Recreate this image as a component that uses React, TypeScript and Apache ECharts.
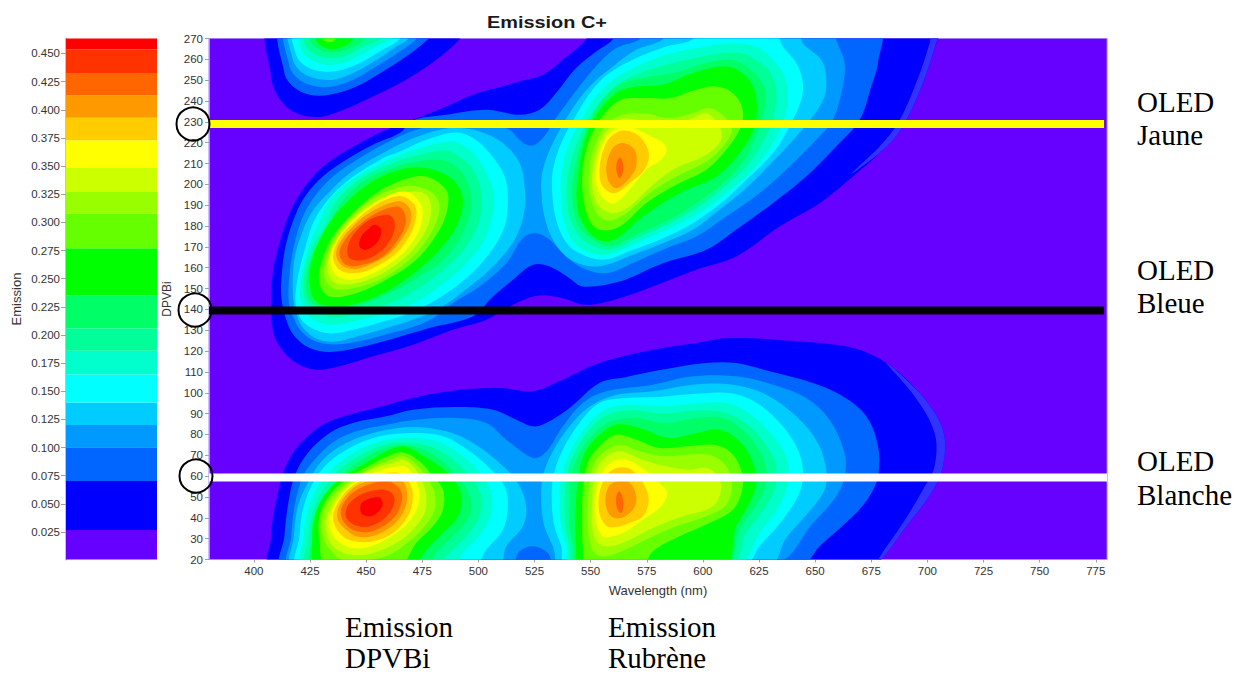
import React, { useEffect, useRef } from "react";
import * as echarts from "echarts";

// ---- axis ticks ----
const wavelengthTicks = [400, 425, 450, 475, 500, 525, 550, 575, 600, 625, 650, 675, 700, 725, 750, 775];
const emissionTicks = [0.025, 0.05, 0.075, 0.1, 0.125, 0.15, 0.175, 0.2, 0.225, 0.25, 0.275, 0.3, 0.325, 0.35, 0.375, 0.4, 0.425, 0.45];

// ---- colour scale: lower / upper limits of each colour band ----
const bandColors = ["#6600ff", "#0000ff", "#0066ff", "#0099ff", "#00ccff", "#00ffff", "#00ffcc", "#00ff99", "#00ff66", "#00ff00", "#66ff00", "#99ff00", "#ccff00", "#ffff00", "#ffcc00", "#ff9900", "#ff6600", "#ff3300", "#ff0000"];
const bandEdges = [0.0006, 0.0268, 0.0703, 0.1004, 0.12, 0.14, 0.165, 0.186, 0.206, 0.235, 0.277, 0.308, 0.327, 0.349, 0.373, 0.393, 0.413, 0.432, 0.4536, 0.4633];

// ---- iso-emission contours: flat lists of wavelength, DPVBi ----
const level01 = [
  [407.7,276,407.7,251.8,410.7,242.2,417.4,235,427.8,232.3,438.1,235,453,242.2,467.8,250.2,481.2,259.8,491.6,269.7,494.6,276],
  [549.5,276,548,269.7,537.6,259.8,528.7,252.6,518.3,249.4,508,246.2,497.6,243,485.7,237.4,470.8,231,459,226.2,448.5,220.6,438.2,214.2,429.2,207,421.8,197.4,415.9,186.2,411.4,171.8,408.4,157.4,407.7,143,408.4,130.3,411.4,122.3,418.8,114.3,427.8,111.1,438.2,112.7,453,117.5,470.8,123.1,488.6,130.3,503.5,135.1,518.3,143.8,527.2,146.7,537.6,145.4,548,142.2,562.9,145.4,577.7,151,597,159,614.8,165.4,634.1,179.8,652,191,666.8,203.8,680.2,216.6,689,227.8,698,248.6,703.9,267.8,706.2,276],
  [407.7,16.7,407.7,31.1,408.4,39.1,410.7,51.9,413.6,63.1,419.6,74.3,430.7,84.7,442.6,89.5,456,93.2,470.8,97.5,490.1,101.2,509.4,102.3,524.3,100.7,536.1,105.5,553.9,114.3,577.7,120.7,597,123.9,611.9,126.3,641.6,124.7,666.8,121.5,681.7,114.3,696.5,99.9,706.9,82.3,706.9,64.7,701.7,51.9,690.6,35.9,679.4,19.9,677.2,15.9],
];
const edgeBand = [
  [706.2,276,703.9,267.8,698,248.6,689,227.8,680.2,216.6,666,205,678.7,218.2,686.9,229.4,695,248.6,701,267.8,702.4,275.8],
  [681.7,114.3,696.5,99.9,706.9,82.3,706.9,64.7,701.7,51.9,690.6,35.9,679.4,19.9,678,19.9,689.1,37.5,698,53.5,703.2,64.7,703.2,80.7,694.3,98.3],
];
const level02 = [
  [412.9,276,413.6,253.4,417.4,247,424.8,243,433.7,243,445.6,247,457.5,254.2,467.8,261.4,477.5,269.7,481.2,276],
  [561.4,276,559.9,269.7,552.5,263.8,543.5,255.8,534.6,243.8,527.2,235.8,518.3,233.4,503.5,235.8,485.7,233.4,470.8,230.7,464.9,224.6,453,219,441.1,211.8,430.7,203.8,423.3,195,418.8,186.2,414.4,171.8,412.6,159,412.2,146.2,414.4,135.1,418.1,127.1,424.8,121.5,433.7,119.6,445.6,121.5,460.4,125.5,478.2,131.1,497.6,136.7,506.5,146.2,515.4,154.2,524.3,161.4,531.7,160.6,540.6,155,546.5,151,562.9,153.4,582.2,162.2,601.5,168.6,614.8,178.2,631.2,191,646,203.8,659.4,218.2,669.8,231,675,247,678,258.2,678,276],
  [412.9,15.9,413.6,31.1,415.1,45.5,418.1,59.9,424,71.1,433.7,80.7,444.1,85.5,458.9,88.7,470.8,91.9,490.1,93.2,506.5,91.9,516.9,87.1,524.3,83.9,530.2,85.5,540.6,92.7,553.9,104.7,565.8,107.6,583.6,111.4,601.5,114.3,614.8,114.3,629.7,110.3,649,104.7,662.3,98.3,672.8,88.7,678,74.3,678,59.9,674.2,50.3,666.8,40.7,652,26.3,644.5,18.3],
];
const level03 = [
  [415.1,276,415.9,256.6,420.3,250.2,427.8,247,435.2,247,444.1,250.2,454.5,256.6,464.9,263.8,472.3,269.7,475.3,276],
  [573.2,275.8,571.8,269.7,561.4,265.4,551,255,542.8,243.8,534.6,231.8,530.9,225.4,527.2,220.6,523.5,218.5,519,220.6,513.9,226.2,506.5,228.6,490.1,229.4,472.3,226.2,458.9,219.8,447.1,212.6,435.2,203.8,427,194.2,421.8,184.6,418.1,171.8,415.9,157.4,415.6,143,418.1,135.1,421.1,129.5,427,124.8,435.2,123.2,445.6,124.5,460.4,128.5,473.8,132.7,481.2,136.7,488.6,143,500.5,151,512.4,162.2,519.8,174.2,525.8,176.6,531.7,173.4,539.1,165.4,546.5,159.8,556.9,157.4,570.3,163,583.6,169.4,597,175,610.4,184.6,625.2,195.8,637.1,207,650.5,221.4,657.9,231,662.3,247,663.1,258.2,659.4,269.7,658.6,275.8],
  [415.9,15.9,416.6,31.1,418.1,45.5,421.8,59.9,427,67.9,435.9,76.7,445.6,81.5,458.9,84.7,472.3,87.1,490.1,87.9,503.5,85.5,512.4,77.5,521.3,70.3,525.8,68.7,531,72.7,537.6,83.9,546.5,95.1,556.9,100.7,577.7,103.9,595.5,107.9,614.8,107.9,631.2,103.9,646,97.5,656.4,87.1,663.1,71.1,663.1,59.9,659.4,50.3,649,37.5,632.6,18.3,534.6,15.9,530.9,23.1,524.2,26.3,518.3,23.9,513.8,15.9],
];
const level04 = [
  [416.6,276,417.4,259.8,421.8,253.4,429.2,250.5,436.7,250.5,445.6,254.2,456,260.6,463.4,266.2,468.6,269.7,471.6,276],
  [490.1,227,482.7,226.2,469.3,221.4,456,214.2,442.6,205.4,433,195.8,425.5,186.2,420.3,173.4,417.8,162.2,417.4,147.8,418.8,138.2,422.6,130.2,429.2,125.4,436.7,124.6,445.6,127,458.9,131,470.8,135,482.7,140.6,496.1,151,508,162.2,516.9,175,520.6,187.8,520.6,199,518.3,210.2,510.9,219.8,500.5,225.4],
  [582.9,275.8,582.2,269.7,570.3,264.6,559.9,256.6,549.5,247,540.6,234.2,533.2,219.8,528.7,207,528,197.4,529.4,184.6,533.2,173.4,539.1,165.4,546.5,161.4,555.4,160.9,568.8,166.2,582.2,171.8,595.5,178.2,607.4,187.8,619.3,198.2,631.2,211,641.6,223,649,232.6,654.2,242.2,654.9,251.8,652.7,259.8,644.5,267.8,641.6,275.8],
  [417.4,15.9,417.8,31.1,419.6,45.5,424,56.7,430.7,67.9,441.1,75.9,456,81.5,470.8,83.6,485.7,81.5,497.6,75.9,509.4,66.3,517.6,56.7,521.3,45.5,519.8,35.9,512.4,26.3,508.7,15.9],
  [536.9,15.9,533.2,26.3,529.4,35.9,528,47.1,528.7,59.9,533.2,71.9,540.6,83.9,548.7,92.7,559.9,98.6,577.7,100.7,595.5,103.9,613.3,103.9,628.2,99.1,641.6,88.7,651.2,75.9,654.9,63.1,654.2,53.5,647.5,43.1,637.1,30.3,628.9,15.9],
];
const level05 = [
  [418.1,276,418.8,262.2,423.3,256.6,430.7,254.2,438.1,254.7,447.1,258.2,456,263.8,464.9,269.7,467.9,276],
  [490.1,224.9,476.8,221.4,463.4,215,457.5,212.6,439.6,199.8,427.8,184.6,422.6,168.6,419.1,152.6,418.8,141.4,422.6,133.4,432.9,128.6,444.1,130.2,457.5,134.2,469.3,138.2,481.2,144.6,494.6,155,505,167,511.7,179.8,513.1,192.6,511.7,203.8,505,215,497.6,222.2],
  [594.8,275.8,595.5,269.7,583.6,266.2,570.3,260.6,558.4,253.4,550.2,244.6,542.8,231.8,536.9,219.8,533.2,207,532.9,195.8,534.6,183,538.3,173.4,543.5,167.8,555.4,163.8,568.8,168.6,582.2,174.2,595.5,181.4,608.9,191.8,619.3,202.2,631.2,215,638.6,227.8,643.8,240.6,644.5,248.6,641.6,258.2,635.6,266.2,630.4,275.8],
  [419.6,15.9,420.3,31.1,421.8,43.9,426.3,56.7,433,66.3,442.6,73.5,456,79.1,470.8,80.7,484.2,79.1,496.1,71.9,505.7,63.1,511.7,55.1,513.1,45.5,510.9,34.3,503.5,24.7,497.6,15.9],
  [539.1,15.9,536.9,26.3,533.9,35.9,532.7,47.1,533.4,59.9,537.6,72.7,545,85.5,553.9,95.1,565.8,97.5,580.7,98,598.5,99.6,613.3,99.6,625.2,94.3,635.6,83.9,642.3,72.7,644.5,63.1,643.3,52.7,635.6,39.1,625.2,26.3,617.8,15.9],
];
const level06 = [
  [420.3,276,421,264.6,425.5,259.8,432.2,257.4,439.6,258.2,448.5,262.7,456,267,461.2,269.7,464.1,276],
  [488.6,220.6,475.3,217.9,459.7,211.8,444.8,203,434.4,193.4,429.2,182.2,424,168.6,420.6,152.6,421.1,143,425.5,135.8,430.7,133.4,436.7,132.6,447.1,135,458.9,138.2,470.8,143,482.7,151,494.6,162.2,502.7,173.4,506.5,186.2,506.5,197.4,502,208.6,496,216.6],
  [610.4,267.5,597,265.4,583.6,262.2,570.3,256.6,559.9,250.2,551.7,241.4,545.8,231,539.8,218.2,536.9,203.8,536.9,192.6,538.3,181.4,542.8,171.8,549.5,167.3,556.9,166.2,570.3,171.8,583.6,178.2,597,185.4,610.4,195.8,622.3,207,631.2,219.8,636.4,232.6,637.9,243.8,635.6,253.4,628.2,263,620.8,267],
  [421.8,15.9,422.1,31.1,424,43.9,428.5,55.1,435.2,63.9,444.1,71.1,456,76.7,467.9,78.3,481.2,76.7,493.1,69.5,501.3,60.7,505.7,51.9,505.7,42.3,501.3,32.7,493.1,23.1,488.6,15.9],
  [541.3,15.9,539.1,26.3,536.9,35.9,536.1,47.1,536.9,59.9,540.6,71.1,548,83.9,556.9,92.2,567.3,94.3,582.2,93.5,598.5,95.1,611.9,94.8,622.3,88.7,631.2,79.1,637.1,69.5,637.9,57.9,634.1,45.5,625.2,32.7,614.8,15.9],
];
const level07 = [
  [421.8,276,423.3,266.2,427.8,262.2,433.7,260.6,441.1,261.7,448.5,266.2,456,269.7,459,276],
  [485.7,216.3,473.8,214.2,461.9,210.2,447.1,202.5,436.7,191.8,431.5,179.8,425.5,168.6,421.8,152.6,423,144.6,427,140.1,433,136.6,439.6,136.6,448.5,139,460.4,143,472.3,149.4,484.2,159,494.6,170.2,500.5,183,501.3,195.8,497.6,207,492.4,212.6],
  [608.9,263,597,260.6,583.6,257.4,570.3,252.6,560.6,247,553.2,238.2,548,229.4,542.8,216.6,539.8,203.8,539.5,192.6,541.3,182.2,545.8,174.2,551.7,170.2,558.4,168.6,570.3,174.2,583.6,180.6,597,188.6,608.9,198.2,619.3,208.6,627.4,221.4,631.9,234.2,632.6,245.4,629.7,254.2,622.3,260.6,616.3,263],
  [424,15.9,424.3,31.1,426.3,43.1,430.7,53.5,437.4,62.3,445.6,68.7,456,74.3,466.4,76.2,478.2,74.3,488.6,67.9,496.8,59.1,501.3,50.3,500.5,40.7,494.6,31.1,485.7,21.5,481.2,15.9],
  [542.8,15.9,540.6,26.3,538.8,35.9,538.3,47.1,539.1,59.9,542.8,71.1,549.5,82.3,557.7,89.5,568.8,91.6,582.2,90,598.5,91.6,610.4,90.3,620.8,83.9,628.9,73.5,632.6,64.7,631.9,53.5,626,42.3,619.3,32.7,611.9,15.9],
];
const level08 = [
  [424,276,425.5,267.8,430,264.3,435.2,263.3,441.9,264.9,449.3,269.7,452.3,276],
  [482.7,211.8,472.3,211,463.4,208.6,448.5,201.4,438.2,190.2,433,179.8,427,168.6,423,152.6,424.8,144.6,430,140.6,435.9,139.8,442.6,140.6,451.5,143.8,463.4,149.4,473.8,155.8,485.7,165.4,493.1,176.6,496.8,189.4,495.3,200.6,490.1,208.6],
  [608.9,259.8,598.5,257.4,586.6,253.4,573.2,251,562.9,247.8,554.7,239.8,549.5,230.2,545,216.6,542.1,203,541.8,192.6,543.5,183,548,175.8,555.4,171,559.9,170.5,571.8,176.6,585.1,183,597,191,608.9,200.6,617.8,211,623.7,223,627.4,235.8,627.4,246.2,622.3,254.2,615.6,259],
  [426,15.9,426.3,31.1,428.5,42.3,433,52.7,439.6,60.7,447.1,67.1,456,72.4,466.4,75,476,72.4,484.9,66.3,493.1,56.7,496.8,48.7,496.1,40.7,490.1,32.7,481.2,23.1,476.8,15.9],
  [543.8,15.9,542.1,26.3,540.6,35.9,540.6,47.1,541.3,59.9,545,71.1,551.7,80.7,559.1,86.3,570.3,87.9,583.6,85.5,597,87.9,608.9,87.9,618.5,81.5,625.2,71.9,628.2,63.1,627.4,53.5,622.3,43.9,616.3,34.3,609.6,15.9],
];
const level09 = [
  [427,276,428.5,267.8,433.7,264.9,439.6,266.2,444.1,269.7,445.6,276],
  [464.9,207,476.7,207.8,488.6,202.2,493.1,192.6,490.1,179.8,481.2,167,469.3,155.8,454.5,146.2,438.1,141.4,427.7,143.8,424.8,152.6,425.5,162.2,430.7,176.6,439.6,189.4,451.5,200.6],
  [610.4,256.6,595.5,253.4,582.2,247.8,570.3,247,561.4,243.8,552.5,233.4,547.3,221.4,544.3,203.8,543.8,191,545.8,183,550.2,175.8,556.2,172.6,562.9,175,573.2,184.6,589.6,195.8,605.9,203.8,616.3,215,623,227.8,623.7,242.2,619.3,251.8],
  [428,15.9,426,29.5,427,40.7,431.5,51.1,438.9,59.1,448.5,65.5,457.5,71.1,466.4,74.3,474.5,70.3,482.7,64.7,490.1,56.7,492.4,50.3,490.9,40.7,484.2,32.7,476.8,24.7,470.1,15.9],
  [545,15.9,543.5,26.3,543.2,35.9,543.5,48.7,544.7,59.9,547.3,71.1,553.2,79.1,561.4,84.7,571.8,83.1,585.1,78.3,597,80.7,607.4,82.3,616.3,76.7,622.3,66.3,623.7,56.7,620.8,47.1,614.8,35.9,609.2,15.9],
];
const level10 = [
  [430,276,430.7,269.7,435.2,268.6,439.6,276],
  [476.7,203.8,485.6,197.4,486.4,189.4,482.7,178.2,472.3,163.8,458.9,154.2,445.5,147.8,433.7,146.2,429.2,152.6,430,162.2,435.2,175,444.1,186.2,454.5,195.8,466.3,202.2],
  [605.9,247,613.3,243.8,617.5,236.6,617,227.8,610.4,216.6,601.5,207,588.1,199.8,574.7,191,562.9,179.8,553.9,178.2,548.7,184.6,546.2,202.2,548.7,219,554.7,231.8,562.9,240.3,573.2,241.4,585.1,241.4,597,245.4],
  [432.5,15.9,429.2,29.5,429.2,40.7,433.7,51.1,441.9,59.1,450.8,64.7,458.9,69.2,466.4,71.4,473.8,67.1,479.7,59.9,484.2,53.5,484.2,43.9,479.7,35.9,472.3,27.9,464.1,15.9],
  [548.7,15.9,546.5,26.3,546.2,39.1,546.5,51.9,548.7,66.3,553.9,74.3,561.4,79.9,570.3,77.5,580.7,73.5,592.6,74.3,604.4,75.1,611.9,71.9,617,63.1,617.5,53.5,613.3,43.9,602.9,37.5,589.6,31.1,577.7,23.9,572.5,15.9],
];
const level11 = [
  [472.3,199,479.7,195.8,482.7,189.4,479.7,178.2,470.8,165.4,457.4,155,444.1,150.2,435.2,150.2,431.4,155.8,432.9,167,438.1,178.2,447,188.6,457.4,195.8,466.3,199],
  [602.9,236.6,609.6,232.3,613,226.2,608.9,218.2,601.5,211,588.1,203.8,576.2,195.8,565.8,186.2,558.4,182.7,553.2,185.4,549.9,194.2,549.2,205.4,551.7,218.2,556.9,228.6,564.3,233.4,574.7,233.9,585.1,231.8,595.5,234.2],
  [434,24.7,430.7,31.1,430.7,40.7,435.2,50.3,443.3,58.3,452.3,63.9,460.4,67.6,466.4,69.5,472.3,65.5,477.5,58.3,480.5,51.9,480.5,43.9,476,35.9,469.3,28.7,460.4,22.3,450,19.6,439.6,19.6],
  [551.7,23.1,549.2,31.1,548.7,42.3,549.5,56.7,551.7,66.3,556.2,71.9,562.9,75.1,571.8,71.9,582.2,69.5,592.6,70.3,602.9,70.3,610.4,64.7,612.9,55.1,610.4,46.3,601.5,40.7,588.1,35.9,576.2,30.3,565.8,24.9,556.9,21.5],
];
const level12 = [
  [470.8,196.6,476.7,195,479,188.6,476.7,178.2,469.3,167,457.4,157.4,445.5,152.6,436.6,152.6,432.9,158.2,434.4,167.8,439.6,178.2,448.5,187.8,458.9,194.2],
  [601.5,234.2,607.4,227.8,608.1,221.4,601.5,214.2,588.1,207.8,577.7,199.8,567.3,189.4,559.9,186.2,553.9,189.4,550.7,199,551.7,211.8,555.4,223,562.9,231,571.8,230.7,586.6,227.8,595.5,231.8],
  [435.2,26.3,432.5,32.7,432.5,40.7,437,50.3,444.8,58.3,453.7,63.9,461.2,66.3,466.4,67.9,471.6,63.9,475.3,56.7,476.8,50.3,476,42.3,470.8,34.3,463.4,27.9,453,23.1,442.6,22.3],
  [553.2,27.9,550.7,35.9,550.7,48.7,551.7,59.9,555.4,67.9,562.9,71.9,573.2,67.9,583.6,64.7,594,63.1,601.5,63.9,606.7,59.9,608.1,53.5,604.4,45.5,591.1,40.7,577.7,35.1,565.8,28.7,558.4,26.3],
];
const level13 = [
  [467.8,196.6,473,192.6,475.2,186.2,473,176.6,466.3,167,456,159,445.5,154.5,437.4,155.8,433.7,163,435.9,171.8,442.6,181.4,451.5,189.4,460.4,195],
  [565.8,227.8,577,223,583.6,218.2,582.2,212.6,574.7,207,567.3,197.4,560.6,191,555.4,193.4,552.2,202.2,553.9,215,558.4,224.6],
  [437.4,28.7,434,34.3,434,41.5,438.9,51.1,446.3,58.3,455.2,62.3,461.9,64.4,467.1,64.7,470.8,60.7,473.5,53.5,473,45.5,468.6,37.5,461.2,31.1,452.3,26.3,443.3,25.5],
  [555.4,31.1,552.2,39.1,552.2,50.3,554.7,60.7,559.1,66.6,565.8,67.9,574,63.1,580.7,56.7,584,51.9,581.4,45.5,573.2,39.1,565.8,33.5,559.9,31.1],
];
const level14 = [
  [466.3,194.2,471.5,190.2,472.3,184.6,470,176.6,463.4,167,453,159.8,444.8,157.4,438.1,159,435.2,165.4,438.1,174.2,444.8,182.2,453,189.4,460.4,193.4],
  [565.1,225.9,571.8,223,575.9,215,574,207,567.3,200.6,560.6,195.8,555.4,199,553.9,207,556.2,218.2,559.9,223.8],
  [439.6,31.1,435.6,37.5,435.9,43.9,441.1,52.7,448.5,58.3,457.5,61.2,464.9,61.5,469.3,56.7,470.8,50.3,468.6,40.7,461.9,32.7,453,28.7,444.8,28.7],
  [557.2,35.9,553.9,42.3,553.9,51.9,556.9,59.9,560.6,63.6,567.3,63.6,572.9,57.5,575.9,48.7,573.2,40.7,566.6,37.2,561.4,35.6],
];
const level15 = [
  [465.6,191.8,469.3,188.6,470,183,467.1,175.8,460.4,167,451.5,161.4,444.8,159.3,438.9,161.4,436.6,167,439.6,174.2,446.3,182.2,453.7,187.8,460.4,191],
  [564.3,219.8,569.5,216.6,570.3,208.6,566.6,202.2,561.4,198.2,557.7,202.2,557.2,210.2,559.9,217.4],
  [441.9,33.5,437.4,39.1,437.9,45.5,443.3,53.5,450.8,57.5,460.4,59.4,466.4,57.5,468.3,50.3,466.4,42.3,460.4,35.1,452.3,31.1,445.6,31.1],
  [559.1,40.7,556.6,47.1,558.1,55.1,562.1,57.5,567.3,57,570.3,50.3,568.8,43.9,563.6,39.9],
];
const level16 = [
  [464.1,189.4,467.1,186.2,467.5,180.6,464.1,173.4,457.4,165.4,448.5,161.4,441.1,161.4,438.1,167,441.1,174.2,447.8,181.4,455.9,187],
  [563.6,212.6,564.6,207,562.9,203,561.4,207,562.1,211.8],
  [442.6,35.1,438.9,40.7,439.6,46.3,444.8,52.7,452.3,56.4,459.7,57.5,464.6,54.3,466.1,49.5,463.4,41.5,457.5,35.9,450,33],
  [562.9,52.7,564.6,47.1,563.6,42.3,561.7,44.7,561.4,50.3],
];
const level17 = [
  [459.7,185.4,462.6,182.2,461.9,175.8,457.4,168.6,449.3,163.8,442.6,164.6,441.8,170.2,444.8,176.6,451.5,183],
  [443.3,37.5,440.8,41.5,442.6,47.1,448.5,51.6,456,53.5,460.4,52.7,462.7,48.7,460.4,42.3,455.2,37.5,449.3,35.6],
];
const level18 = [
  [453.7,180.6,456.7,178.2,455.2,172.6,450,168.6,447,170.2,447.8,175,450.7,178.2],
  [447.8,42.3,448.2,47.4,456,49.8,457.2,45.5,452.3,40.7],
];

// ---- device lines and where they sit on the DPVBi axis ----
const jauneLine = [[380, 229], [778.7, 229]];
const bleueLine = [[380, 139.5], [778.7, 139.5]];
const blancheLine = [[380, 59.3], [780, 59.3]];

const contourLevels = [level01, level02, level03, level04, level05, level06, level07, level08, level09, level10, level11, level12, level13, level14, level15, level16, level17, level18];
const contours: { fill: string; pts: number[] }[] = [];
contourLevels.forEach((regions, i) => {
  regions.forEach((pts) => contours.push({ fill: bandColors[i + 1], pts }));
  if (i === 0) edgeBand.forEach((pts) => contours.push({ fill: "#3333ff", pts }));
});

const SERIF = "'Liberation Serif', 'Times New Roman', serif";
const SANS = "'Liberation Sans', Arial, sans-serif";
const AXIS_TEXT = "#333333";
const AXIS_LINE = "#a0a0a0";

function noteText(text: string, x: number, baseline: number) {
  return {
    type: "text",
    x,
    y: baseline + 0.5,
    z: 100,
    style: { text, font: `29px ${SERIF}`, lineHeight: 22, fill: "#000000", verticalAlign: "bottom", textAlign: "left" },
  };
}
function ring(cx: number, cy: number) {
  return {
    type: "circle",
    z: 100,
    shape: { cx, cy, r: 16.5 },
    style: { fill: "rgba(0,0,0,0)", stroke: "#000000", lineWidth: 2 },
  };
}

export default function App() {
  const ref = useRef<HTMLDivElement>(null);
  useEffect(() => {
    const chart = echarts.init(ref.current!, null, { renderer: "svg" });
    const label = { fontFamily: SANS, fontSize: 11.5, color: AXIS_TEXT };
    const nameStyle = { fontFamily: SANS, color: AXIS_TEXT };
    chart.setOption({
      animation: false,
      backgroundColor: "#ffffff",
      graphic: [
        {
          type: "text", x: 487, y: 22, z: 100, scaleX: 1.17,
          style: { text: "Emission C+", font: `bold 17px ${SANS}`, fill: "#1a1a1a", verticalAlign: "middle", textAlign: "left" },
        },
        ring(193, 124), ring(195, 310), ring(196, 476),
        noteText("OLED", 1137, 112), noteText("Jaune", 1137, 145),
        noteText("OLED", 1137, 280), noteText("Bleue", 1137, 313),
        noteText("OLED", 1137, 471), noteText("Blanche", 1137, 505),
        noteText("Emission", 345, 637), noteText("DPVBi", 345, 668),
        noteText("Emission", 608, 637), noteText("Rubrène", 608, 668),
      ],
      grid: [
        { left: 209, top: 38.5, width: 898, height: 521, show: true, backgroundColor: bandColors[0], borderColor: "#a27bff", borderWidth: 1, z: 0 },
        { left: 66, top: 38.5, width: 91, height: 521, show: false },
      ],
      xAxis: [
        {
          type: "value", gridIndex: 0, min: 380, max: 780,
          name: "Wavelength (nm)", nameLocation: "middle", nameGap: 24, nameTextStyle: { ...nameStyle, fontSize: 13 },
          axisLine: { show: true, lineStyle: { color: AXIS_LINE } },
          axisTick: { show: true, length: 3, customValues: wavelengthTicks, lineStyle: { color: AXIS_LINE } },
          axisLabel: { ...label, margin: 5, customValues: wavelengthTicks, hideOverlap: false },
          splitLine: { show: false },
        },
        { type: "value", gridIndex: 1, min: 0, max: 1, show: false },
      ],
      yAxis: [
        {
          type: "value", gridIndex: 0, min: 20, max: 270, interval: 10,
          name: "DPVBi", nameLocation: "middle", nameGap: 32, nameTextStyle: { ...nameStyle, fontSize: 12 },
          axisLine: { show: true, lineStyle: { color: AXIS_LINE } },
          axisTick: { show: true, length: 4, lineStyle: { color: AXIS_LINE } },
          axisLabel: { ...label, margin: 6, hideOverlap: false, showMinLabel: true, showMaxLabel: true },
          splitLine: { show: false },
        },
        {
          type: "value", gridIndex: 1, min: bandEdges[0], max: bandEdges[bandEdges.length - 1],
          name: "Emission", nameLocation: "middle", nameGap: 43, nameTextStyle: { ...nameStyle, fontSize: 13 },
          axisLine: { show: true, lineStyle: { color: "#c4c4c4", width: 2 } },
          axisTick: { show: true, length: 5, customValues: emissionTicks, lineStyle: { color: AXIS_LINE } },
          axisLabel: { ...label, margin: 6, customValues: emissionTicks, formatter: (v: number) => v.toFixed(3), hideOverlap: false },
          splitLine: { show: false },
        },
      ],
      series: [
        {
          type: "custom", xAxisIndex: 0, yAxisIndex: 0, clip: true, silent: true, z: 2,
          data: contours.map((_, i) => [i]),
          renderItem: (params: any, api: any) => {
            const c = contours[params.dataIndex];
            const points: number[][] = [];
            for (let k = 0; k < c.pts.length; k += 2) points.push(api.coord([c.pts[k], c.pts[k + 1]]));
            return { type: "polygon", shape: { points, smooth: 0.35 }, style: { fill: c.fill } };
          },
        },
        {
          type: "custom", xAxisIndex: 1, yAxisIndex: 1, silent: true, z: 2,
          data: bandColors.map((_, i) => [i]),
          renderItem: (params: any, api: any) => {
            const i = params.dataIndex;
            const a = api.coord([0, bandEdges[i + 1]]);
            const b = api.coord([1, bandEdges[i]]);
            return { type: "rect", shape: { x: a[0], y: a[1], width: b[0] - a[0], height: b[1] - a[1] }, style: { fill: bandColors[i] } };
          },
        },
        ...[
          { data: jauneLine, color: "#ffff00" },
          { data: bleueLine, color: "#000000" },
          { data: blancheLine, color: "#ffffff" },
        ].map((l) => ({
          type: "line", xAxisIndex: 0, yAxisIndex: 0, data: l.data, symbol: "none", z: 5, silent: true,
          clip: false, lineStyle: { color: l.color, width: 8, cap: "butt" },
        })),
      ],
    });
    return () => chart.dispose();
  }, []);
  return <div ref={ref} style={{ position: "fixed", left: 0, top: 0, width: 1234, height: 675 }} />;
}
